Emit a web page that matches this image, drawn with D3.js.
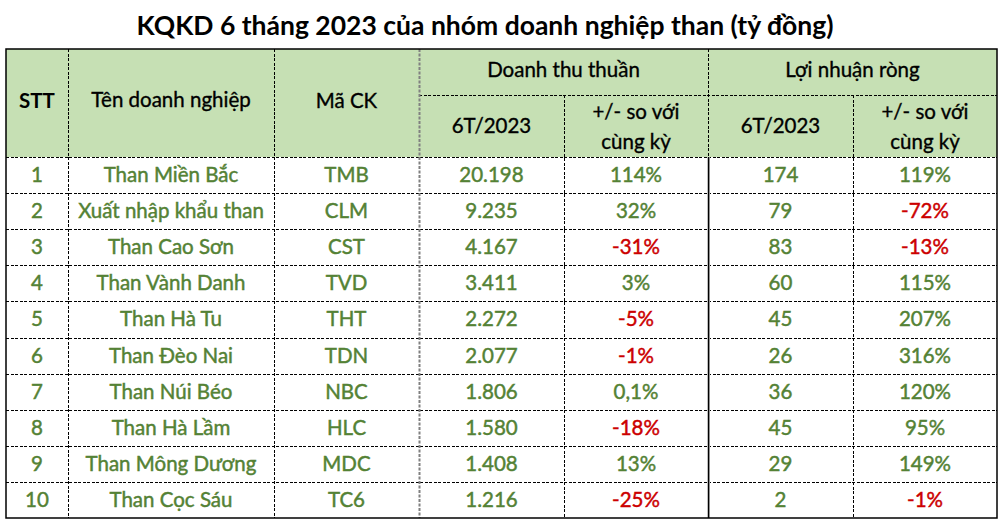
<!DOCTYPE html>
<html>
<head>
<meta charset="utf-8">
<script src="https://cdn.jsdelivr.net/npm/d3@7"></script>
<style>
  html, body { margin: 0; padding: 0; background: #fff; }
  svg { display: block; font-family: Lato, "Open Sans", sans-serif; }
</style>
</head>
<body>
<div id="chart"></div>
<script>
// KQKD 6 thang 2023 - bang nhom doanh nghiep than
const stt = [1, 2, 3, 4, 5, 6, 7, 8, 9, 10];
const companies = ['Than Miền Bắc', 'Xuất nhập khẩu than', 'Than Cao Sơn', 'Than Vành Danh', 'Than Hà Tu',
  'Than Đèo Nai', 'Than Núi Béo', 'Than Hà Lầm', 'Than Mông Dương', 'Than Cọc Sáu'];
const tickers = ['TMB', 'CLM', 'CST', 'TVD', 'THT', 'TDN', 'NBC', 'HLC', 'MDC', 'TC6'];
const revenue = ['20.198', '9.235', '4.167', '3.411', '2.272', '2.077', '1.806', '1.580', '1.408', '1.216'];
const revenueChange = ['114%', '32%', '-31%', '3%', '-5%', '-1%', '0,1%', '-18%', '13%', '-25%'];
const profit = ['174', '79', '83', '60', '45', '26', '36', '45', '29', '2'];
const profitChange = ['119%', '-72%', '-13%', '115%', '207%', '316%', '120%', '95%', '149%', '-1%'];

(function(){
  const W = 1000, H = 524;
  const green = '#548235', red = '#cc0000', headFill = '#c6e0b4';
  // column edges
  const cols = [6, 68, 274, 419, 564, 708, 853, 997];
  const top = 49, headMid = 95, headBot = 157, bottom = 518;
  const fs = 20.5;

  const svg = d3.select('#chart').append('svg').attr('width', W).attr('height', H);

  svg.append('text').attr('x', 485).attr('y', 35).attr('text-anchor', 'middle')
    .attr('font-size', 26.5).attr('font-weight', 700).attr('fill', '#000')
    .text('KQKD 6 tháng 2023 của nhóm doanh nghiệp than (tỷ đồng)');

  // header background
  svg.append('rect').attr('x', cols[0]).attr('y', top).attr('width', cols[7] - cols[0]).attr('height', headBot - top)
    .attr('fill', headFill);

  const y = d3.scaleBand().domain(stt).range([headBot, bottom]);
  const cx = i => (cols[i] + cols[i + 1]) / 2;

  const rows = stt.map((s, i) => [
    {t: s, c: green}, {t: companies[i], c: green}, {t: tickers[i], c: green},
    {t: revenue[i], c: green},
    {t: revenueChange[i], c: revenueChange[i].startsWith('-') ? red : green},
    {t: profit[i], c: green},
    {t: profitChange[i], c: profitChange[i].startsWith('-') ? red : green}
  ]);

  const g = svg.append('g').attr('font-size', fs);
  const rowG = g.selectAll('g.row').data(rows).enter().append('g')
    .attr('transform', (d, i) => `translate(0,${y(stt[i]) + y.bandwidth() / 2 + 7})`);
  rowG.selectAll('text').data(d => d).enter().append('text')
    .attr('x', (d, j) => cx(j)).attr('text-anchor', 'middle')
    .attr('fill', d => d.c).attr('stroke', d => d.c).attr('stroke-width', 0.45)
    .text(d => d.t);

  // header text
  const hd = svg.append('g').attr('font-size', fs).attr('fill', '#000').attr('stroke', '#000')
    .attr('stroke-width', 0.35).attr('text-anchor', 'middle');
  hd.append('text').attr('x', cx(0)).attr('y', 108).attr('font-weight', 700).attr('stroke-width', 0).text('STT');
  hd.append('text').attr('x', cx(1)).attr('y', 107).text('Tên doanh nghiệp');
  hd.append('text').attr('x', cx(2)).attr('y', 108).text('Mã CK');
  hd.append('text').attr('x', (cols[3] + cols[5]) / 2).attr('y', 77).text('Doanh thu thuần');
  hd.append('text').attr('x', (cols[5] + cols[7]) / 2).attr('y', 77).text('Lợi nhuận ròng');
  [3, 5].forEach(j => {
    hd.append('text').attr('x', cx(j)).attr('y', 133).text('6T/2023');
    hd.append('text').attr('x', cx(j + 1)).attr('y', 119).text('+/- so với');
    hd.append('text').attr('x', cx(j + 1)).attr('y', 149).text('cùng kỳ');
  });

  // grid lines
  const grid = svg.append('g').attr('stroke', '#000').attr('stroke-width', 1).attr('stroke-dasharray', '3,1.5')
    .attr('shape-rendering', 'crispEdges');
  grid.append('line').attr('x1', cols[3]).attr('x2', cols[7]).attr('y1', headMid + 0.5).attr('y2', headMid + 0.5);
  stt.forEach(s => {
    const yy = Math.round(y(s)) + 0.5;
    grid.append('line').attr('x1', cols[0]).attr('x2', cols[7]).attr('y1', yy).attr('y2', yy);
  });
  [1, 2, 4, 6].forEach(j => {
    grid.append('line').attr('x1', cols[j] + 0.5).attr('x2', cols[j] + 0.5).attr('y1', j === 4 || j === 6 ? headMid : top).attr('y2', bottom);
  });
  grid.append('line').attr('x1', cols[5] + 0.5).attr('x2', cols[5] + 0.5).attr('y1', top).attr('y2', headBot);
  // grey dashed divider
  svg.append('line').attr('x1', cols[3] + 0.5).attr('x2', cols[3] + 0.5).attr('y1', top).attr('y2', bottom)
    .attr('stroke', '#808080').attr('stroke-width', 2).attr('stroke-dasharray', '3,1.5');
  // solid divider in body
  svg.append('line').attr('x1', cols[5] + 1.5).attr('x2', cols[5] + 1.5).attr('y1', headBot).attr('y2', bottom)
    .attr('stroke', '#c0c0c0').attr('stroke-width', 1);
  svg.append('line').attr('x1', cols[5] + 0.5).attr('x2', cols[5] + 0.5).attr('y1', headBot).attr('y2', bottom)
    .attr('stroke', '#000').attr('stroke-width', 1.5);
  // outer border
  svg.append('rect').attr('x', cols[0]).attr('y', top).attr('width', cols[7] - cols[0]).attr('height', bottom - top)
    .attr('fill', 'none').attr('stroke', '#000').attr('stroke-width', 1.5);
})();
</script>
</body>
</html>
